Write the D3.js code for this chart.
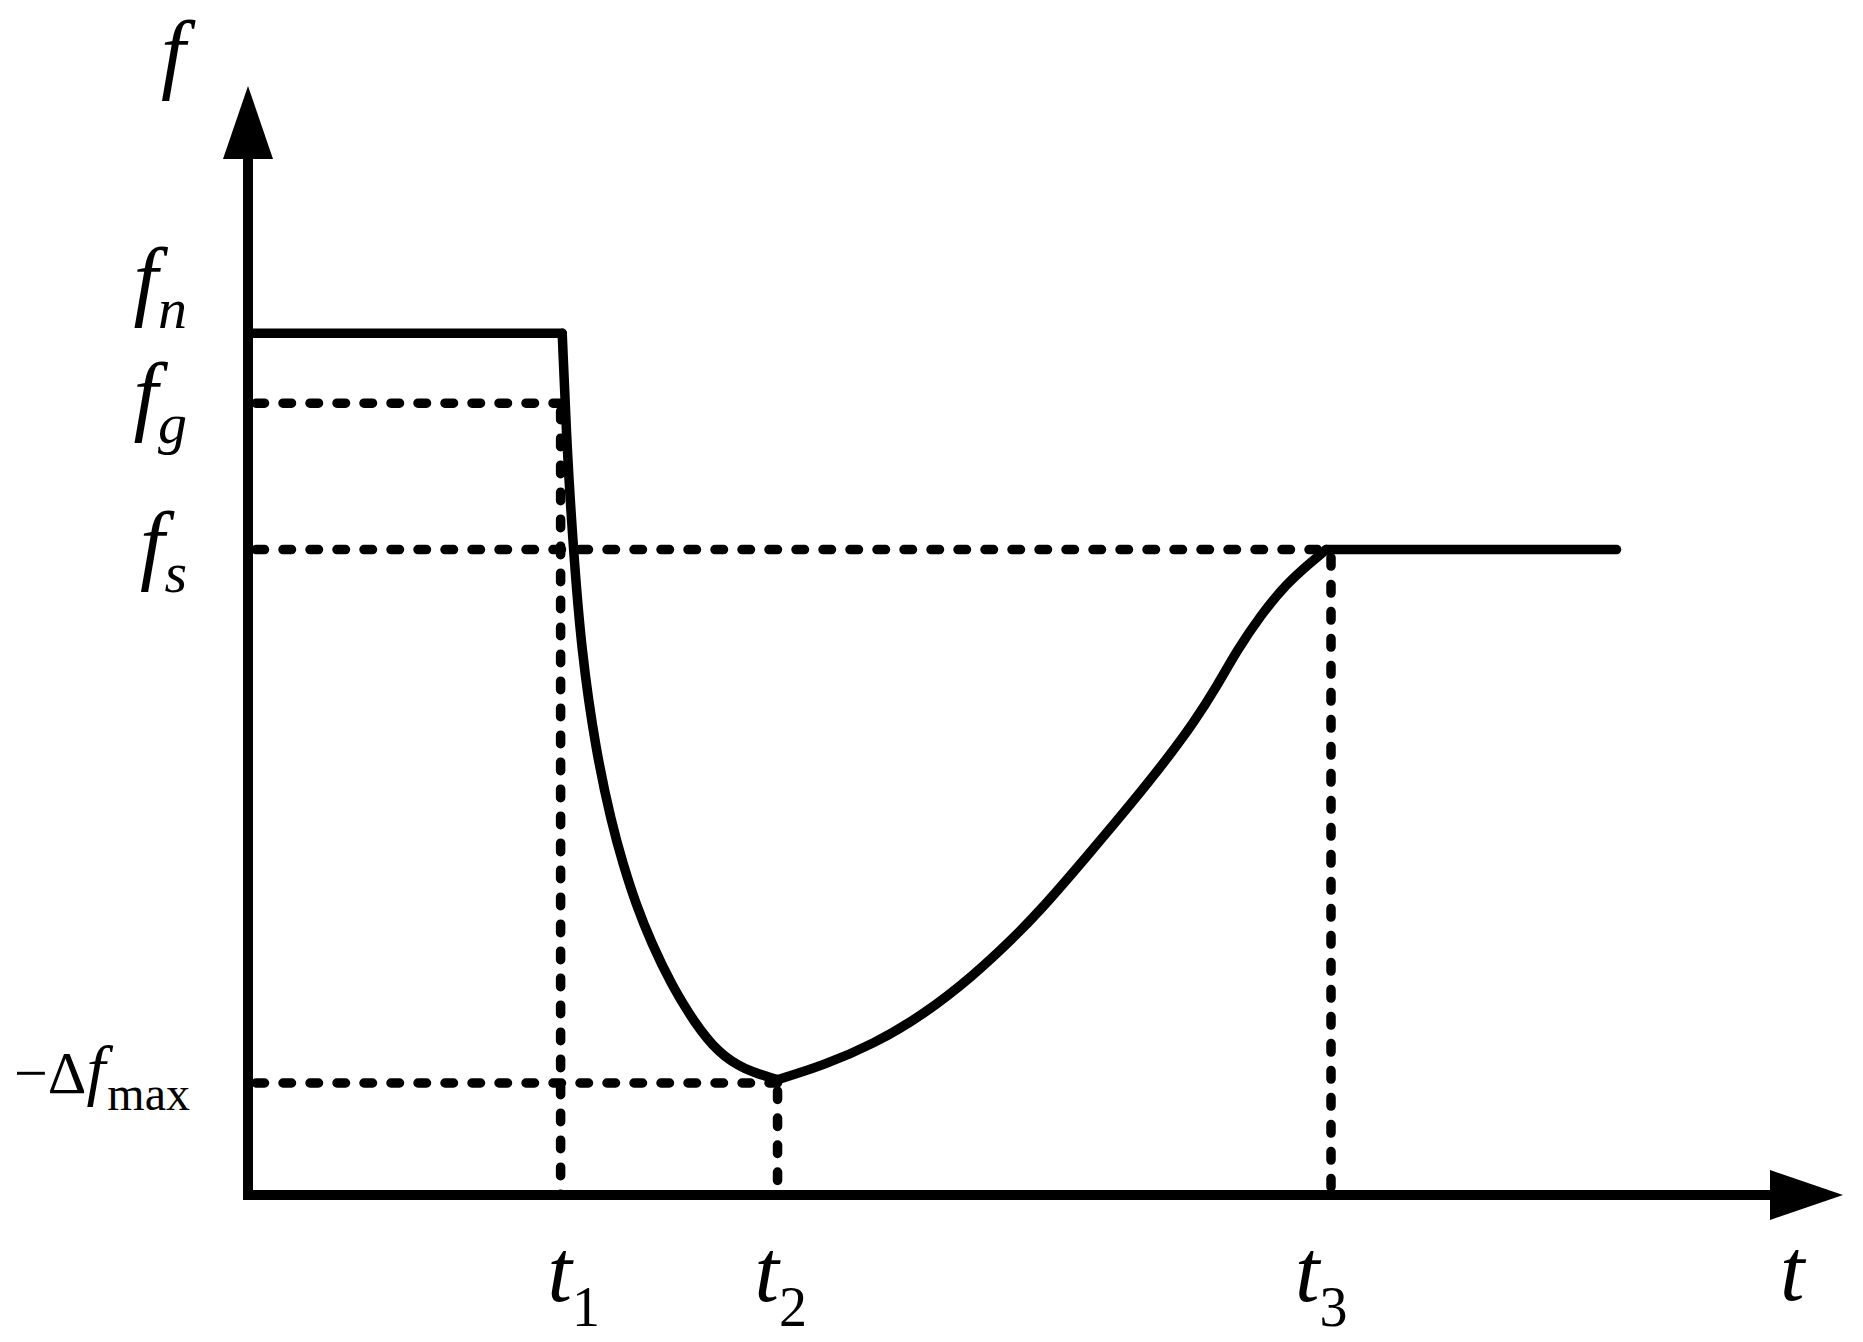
<!DOCTYPE html>
<html lang="en">
<head>
    <meta charset="utf-8">
    <script src="https://d3js.org/d3.v7.min.js"></script>
    <title>f-t</title>
    <style>
        body {margin: 0; background: #fff;}
        text, tspan {font-family: 'Liberation Serif', 'Times New Roman', serif; fill: #000;}
        .it {font-style: italic;}
        .solid {fill: none; stroke: #000; stroke-width: 9.5; stroke-linecap: round; stroke-linejoin: round;}
        .guide {fill: none; stroke: #000; stroke-width: 9.5; stroke-linecap: round; stroke-dasharray: 8.5 18.5;}
        .axis {fill: none; stroke: #000; stroke-width: 10; stroke-linejoin: miter;}
    </style>
</head>
<body>
<script>
    // axis extent (arbitrary units)
    var tMax = 100, fMax = 100;

    // time marks t1, t2, t3 and end of the flat tail
    var tMarks = [19.6, 33.2, 67.9];
    var tNames = ['1', '2', '3'];
    var tEnd = 85.8;

    // frequency levels fn, fg, fs, -Δfmax
    var fLevels = [77.7, 71.4, 58.2, 10.1];
    var fNames = ['n', 'g', 's', 'max'];

    // falling part (t1 -> t2)
    var dropT = [19.7, 20.0, 20.4, 20.9, 21.8, 22.8, 23.5, 24.3, 25.3, 26.5, 28.0, 29.5, 31.1, 33.2];
    var dropF = [77.7, 67.2, 58.2, 49.1, 40.1, 33.5, 29.9, 26.3, 22.7, 19.1, 15.5, 12.8, 11.3, 10.4];

    // recovery part (t2 -> t3)
    var riseT = [33.2, 36.1, 39.2, 42.3, 45.5, 48.0, 49.7, 52.4, 55.5, 57.6, 59.3, 60.8, 62.0, 63.5, 65.1, 66.6, 67.6];
    var riseF = [10.4, 11.7, 13.6, 16.2, 19.8, 23.2, 25.7, 30.2, 35.5, 39.3, 42.6, 46.0, 49.1, 52.3, 55.1, 57.0, 58.2];

    var W = 1863, H = 1342;
    var x = d3.scaleLinear().domain([0, tMax]).range([248, 1843]);
    var y = d3.scaleLinear().domain([0, fMax]).range([1195, 86]);
    var arrowLen = 73, arrowHalf = 25;

    var svg = d3.select('body').append('svg').attr('width', W).attr('height', H);

    var fn = fLevels[0], fg = fLevels[1], fs = fLevels[2], fm = fLevels[3];
    var t1 = tMarks[0], t2 = tMarks[1], t3 = tMarks[2];

    //점선 보조선
    var hGuides = [[fg, t1], [fs, t3], [fm, t2]];
    var vGuides = [[t1, fg], [t2, fm], [t3, fs]];
    svg.selectAll('.hg').data(hGuides).enter().append('line')
        .attr('class', 'guide')
        .attr('x1', x(0) + 8).attr('x2', d => x(d[1]))
        .attr('y1', d => y(d[0])).attr('y2', d => y(d[0]));
    svg.selectAll('.vg').data(vGuides).enter().append('line')
        .attr('class', 'guide')
        .attr('x1', d => x(d[0])).attr('x2', d => x(d[0]))
        .attr('y1', d => y(d[1]) + 8).attr('y2', y(0));

    //축
    svg.append('path').attr('class', 'axis')
        .attr('d', 'M' + x(0) + ',' + (y(fMax) + arrowLen) + 'V' + y(0) + 'H' + (x(tMax) - arrowLen));
    svg.append('path')
        .attr('d', 'M' + (x(0) - arrowHalf) + ',' + (y(fMax) + arrowLen) + 'L' + x(0) + ',' + y(fMax)
            + 'L' + (x(0) + arrowHalf) + ',' + (y(fMax) + arrowLen) + 'Z');
    svg.append('path')
        .attr('d', 'M' + (x(tMax) - arrowLen) + ',' + (y(0) - arrowHalf) + 'L' + x(tMax) + ',' + y(0)
            + 'L' + (x(tMax) - arrowLen) + ',' + (y(0) + arrowHalf) + 'Z');

    //주파수 곡선
    var lin = d3.line().x(d => x(d[0])).y(d => y(d[1]));
    var smooth = d3.line().x(d => x(d[0])).y(d => y(d[1])).curve(d3.curveBasis);
    svg.append('path').attr('class', 'solid').attr('d', lin([[0, fn], [dropT[0], fn]]));
    svg.append('path').attr('class', 'solid').attr('d', smooth(dropT.map((t, i) => [t, dropF[i]])));
    svg.append('path').attr('class', 'solid').attr('d', smooth(riseT.map((t, i) => [t, riseF[i]])));
    svg.append('path').attr('class', 'solid').attr('d', lin([[riseT[riseT.length - 1], fs], [tEnd, fs]]));

    //축 이름
    svg.append('text').attr('class', 'it').attr('x', 161).attr('y', 82).attr('font-size', 88).text('f');
    svg.append('text').attr('class', 'it').attr('x', 1780).attr('y', 1300).attr('font-size', 88).text('t');

    //f 레이블
    var fDy = [-24, 21, 23];
    [0, 1, 2].forEach(i => {
        var tx = svg.append('text').attr('x', 187).attr('y', y(fLevels[i]) + fDy[i])
            .attr('text-anchor', 'end').attr('font-size', 88);
        tx.append('tspan').attr('class', 'it').text('f');
        tx.append('tspan').attr('class', 'it').attr('font-size', 58).attr('dy', 19).text(fNames[i]);
    });
    var dm = svg.append('text').attr('x', 14).attr('y', y(fm) + 10).attr('font-size', 60);
    dm.append('tspan').text('\u2212\u0394');
    dm.append('tspan').attr('class', 'it').attr('font-size', 68).text('f');
    dm.append('tspan').attr('font-size', 48).attr('dy', 17).attr('dx', 2).text(fNames[3]);

    //t 레이블
    var tDx = [-13, -23, -36];
    tMarks.forEach((t, i) => {
        var tx = svg.append('text').attr('x', x(t) + tDx[i]).attr('y', 1301).attr('font-size', 88);
        tx.append('tspan').attr('class', 'it').text('t');
        tx.append('tspan').attr('font-size', 56).attr('dy', 25).text(tNames[i]);
    });
</script>
</body>
</html>
